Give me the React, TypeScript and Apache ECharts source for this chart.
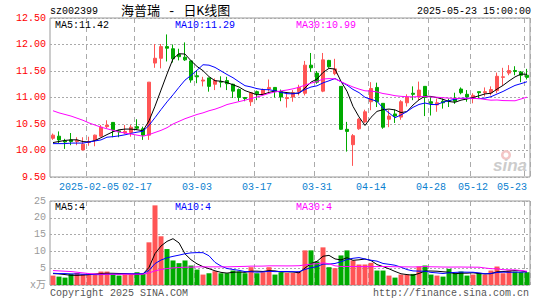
import { useEffect, useRef } from "react";
import * as echarts from "echarts";

const dates = [
  "2025-01-20","2025-01-21","2025-01-22","2025-01-23","2025-01-24","2025-01-27",
  "2025-02-05","2025-02-06","2025-02-07","2025-02-10","2025-02-11","2025-02-12","2025-02-13","2025-02-14",
  "2025-02-17","2025-02-18","2025-02-19","2025-02-20","2025-02-21","2025-02-24","2025-02-25","2025-02-26","2025-02-27","2025-02-28",
  "2025-03-03","2025-03-04","2025-03-05","2025-03-06","2025-03-07","2025-03-10","2025-03-11","2025-03-12","2025-03-13","2025-03-14",
  "2025-03-17","2025-03-18","2025-03-19","2025-03-20","2025-03-21","2025-03-24","2025-03-25","2025-03-26","2025-03-27","2025-03-28",
  "2025-03-31","2025-04-01","2025-04-02","2025-04-03","2025-04-07","2025-04-08","2025-04-09","2025-04-10","2025-04-11",
  "2025-04-14","2025-04-15","2025-04-16","2025-04-17","2025-04-18","2025-04-21","2025-04-22","2025-04-23","2025-04-24","2025-04-25",
  "2025-04-28","2025-04-29","2025-04-30","2025-05-06","2025-05-07","2025-05-08","2025-05-09",
  "2025-05-12","2025-05-13","2025-05-14","2025-05-15","2025-05-16","2025-05-19","2025-05-20","2025-05-21","2025-05-22","2025-05-23",
];

const tickDates = ["2025-02-05","2025-02-17","2025-03-03","2025-03-17","2025-03-31","2025-04-14","2025-04-28","2025-05-12","2025-05-23"];
const tickLabels = ["2025-02-05","02-17","03-03","03-17","03-31","04-14","04-28","05-12","05-23"];

const opens = [
  10.23,10.27,10.18,10.20,10.17,10.01,10.15,10.19,10.27,10.45,
  10.53,10.37,10.33,10.34,10.45,10.41,10.29,11.65,11.74,11.96,
  11.92,11.81,11.76,11.69,11.41,11.31,11.37,11.25,11.30,11.32,
  11.25,11.15,11.00,10.92,11.11,11.06,11.16,11.19,11.11,10.98,
  11.01,11.11,11.08,11.61,11.46,11.12,11.70,11.45,11.21,10.40,
  10.11,10.41,10.54,10.92,11.19,10.89,10.59,10.69,10.63,10.90,
  11.08,11.01,11.21,10.92,10.86,10.93,10.94,10.99,11.16,11.06,
  10.98,11.11,11.09,11.09,11.13,11.38,11.46,11.51,11.48,11.42,
];
const closes = [
  10.29,10.20,10.16,10.17,10.19,10.12,10.17,10.29,10.44,10.48,
  10.39,10.35,10.36,10.44,10.42,10.29,11.29,11.74,11.96,11.93,
  11.73,11.77,11.71,11.33,11.39,11.33,11.21,11.32,11.29,11.26,
  11.12,11.00,10.98,11.09,11.07,11.15,11.19,11.11,11.01,11.00,
  11.09,11.19,11.61,11.56,11.29,11.71,11.58,11.54,10.40,10.36,
  10.28,10.59,10.73,11.17,10.92,10.44,10.65,10.65,10.92,11.01,
  11.06,11.14,11.00,10.89,10.90,10.90,10.93,10.93,11.09,11.01,
  11.04,11.09,11.11,11.15,11.40,11.39,11.51,11.49,11.42,11.38,
];
const highs = [
  10.32,10.36,10.22,10.33,10.25,10.25,10.26,10.30,10.48,10.57,
  10.53,10.39,10.48,10.48,10.59,10.45,11.29,12.01,12.01,12.19,
  12.00,11.92,12.04,11.70,11.51,11.39,11.37,11.36,11.40,11.39,
  11.26,11.17,11.01,11.09,11.13,11.17,11.34,11.19,11.15,11.07,
  11.14,11.24,11.69,11.84,11.50,11.84,11.71,11.73,11.21,10.54,
  10.31,10.61,10.77,11.29,11.28,10.89,10.76,10.77,10.95,11.06,
  11.21,11.30,11.21,11.01,10.98,10.98,10.98,11.09,11.19,11.14,
  11.08,11.11,11.19,11.21,11.47,11.56,11.61,11.59,11.50,11.54,
];
const lows = [
  10.20,10.14,10.03,10.10,10.10,10.00,10.09,10.08,10.26,10.42,
  10.25,10.25,10.31,10.26,10.39,10.20,10.20,11.56,11.55,11.68,
  11.66,11.70,11.69,11.28,11.27,11.21,11.11,11.14,11.19,11.14,
  10.99,10.93,10.93,10.84,10.95,11.04,11.11,11.00,10.93,10.81,
  10.92,11.04,11.04,11.48,11.26,11.10,11.56,11.42,10.39,9.98,
  9.71,10.39,10.52,10.76,10.82,10.41,10.44,10.52,10.58,10.83,
  10.95,10.95,10.65,10.66,10.73,10.79,10.82,10.88,11.06,10.92,
  10.89,10.98,11.02,11.04,11.08,11.23,11.42,11.42,11.29,11.34,
];
const volumes = [
  2.8,2.5,2.2,3.3,3.6,3.2,3.1,3.2,4.0,4.0,
  3.1,2.8,3.2,3.2,3.8,3.3,12.7,23.7,14.5,10.7,
  7.3,6.5,7.3,5.8,4.6,3.1,3.5,4.1,3.5,3.5,
  4.3,4.0,3.5,5.3,3.5,3.8,5.3,3.1,3.8,3.6,
  3.6,4.0,10.3,10.3,7.0,11.2,5.3,5.0,8.8,10.3,
  7.3,6.1,6.1,6.6,4.3,4.3,2.8,2.2,3.1,3.1,
  3.3,5.5,5.8,3.1,2.8,2.5,4.8,3.5,4.0,2.8,
  3.1,3.6,3.1,4.3,5.5,3.5,4.3,4.0,3.8,3.8,
];

// moving-average values at the left edge (their windows start before the chart)
const ma5Head = [10.15, 10.17, 10.19, 10.20];
const ma10Head = [10.13, 10.13, 10.13, 10.14, 10.14, 10.14, 10.16, 10.18, 10.20];
const ma30Head = [
  10.75,10.71,10.68,10.65,10.61,10.57,10.52,10.48,10.44,10.41,
  10.38,10.35,10.33,10.31,10.29,10.27,10.30,10.34,10.38,10.43,
  10.50,10.55,10.60,10.64,10.68,10.71,10.75,10.78,10.82,
];
const vma5Head = [3.4, 3.3, 3.1, 2.9];
const vma10Head = [3.5, 3.4, 3.4, 3.3, 3.3, 3.2, 3.2, 3.1, 3.1];
const vma30Head = [
  4.3,4.2,4.1,4.0,3.8,3.6,3.4,3.3,3.2,3.2,
  3.2,3.2,3.2,3.2,3.2,3.2,3.6,4.2,4.6,4.9,
  5.1,5.2,5.3,5.3,5.4,5.4,5.4,5.4,5.4,
];

const stockCode = "sz002399";
const stockTitle = "海普瑞 - 日K线图";
const stampText = "2025-05-23 15:00:00";
const priceLegend = ["MA5:11.42", "MA10:11.29", "MA30:10.99"];
const volumeLegend = ["MA5:4", "MA10:4", "MA30:4"];
const maColors = ["#000000", "#0000ff", "#ff00ff"];
const copyrightText = "Copyright 2025 SINA.COM";
const urlText = "http://finance.sina.com.cn";

function movingAverage(values: number[], n: number, head: number[]) {
  return values.map((_, i) => {
    if (i < n - 1) return head[i];
    let s = 0;
    for (let k = i - n + 1; k <= i; k++) s += values[k];
    return +(s / n).toFixed(3);
  });
}

const MONO = "'Liberation Mono', 'DejaVu Sans Mono', monospace";
const RED = "#ff5555";
const GREEN = "#00aa00";

export default function App() {
  const ref = useRef<HTMLDivElement>(null);
  useEffect(() => {
    if (!ref.current) return;
    const chart = echarts.init(ref.current, null, { renderer: "svg" });
    const tickIdx = tickDates.map((d) => dates.indexOf(d));
    const isTick = (i: number) => tickIdx.indexOf(i) >= 0;
    const candle = dates.map((_, i) => [opens[i], closes[i], lows[i], highs[i]]);
    const volData = volumes.map((v, i) => ({
      value: v,
      itemStyle: { color: closes[i] >= opens[i] ? RED : GREEN },
    }));
    const ma = [movingAverage(closes, 5, ma5Head), movingAverage(closes, 10, ma10Head), movingAverage(closes, 30, ma30Head)];
    const vma = [movingAverage(volumes, 5, vma5Head), movingAverage(volumes, 10, vma10Head), movingAverage(volumes, 30, vma30Head)];
    const legendX = [55, 175, 296];

    const vSplit = {
      show: true,
      interval: (i: number) => isTick(i),
      lineStyle: { color: "#aaaaaa", type: [5, 4], width: 1 },
    };
    const hSplit = { show: true, lineStyle: { color: "#aaaaaa", type: [2, 2], width: 1 } };

    const lineSeries = (data: number[], color: string, xi: number) => ({
      type: "line",
      xAxisIndex: xi,
      yAxisIndex: xi,
      data,
      symbol: "none",
      showSymbol: false,
      lineStyle: { color, width: 1 },
      itemStyle: { color },
      silent: true,
      z: 5,
    });

    const graphic: any[] = [
      { type: "text", x: 50, y: 11, style: { text: stockCode, fill: "#000", font: `10px ${MONO}`, align: "left", verticalAlign: "middle" } },
      { type: "text", x: 121, y: 11, style: { text: stockTitle, fill: "#000", font: "13px 'Liberation Mono', 'Noto Sans CJK SC'", align: "left", verticalAlign: "middle" } },
      { type: "text", x: 531, y: 11, style: { text: stampText, fill: "#000", font: `10px ${MONO}`, align: "right", verticalAlign: "middle" } },
      { type: "text", x: 50, y: 293, style: { text: copyrightText, fill: "#555", font: `10px ${MONO}`, align: "left", verticalAlign: "middle" } },
      { type: "text", x: 529, y: 293, style: { text: urlText, fill: "#555", font: `10px ${MONO}`, align: "right", verticalAlign: "middle" } },
      { type: "ring", shape: { cx: 506, cy: 155, r: 5, r0: 2.5 }, style: { fill: "#f3c6c6" }, z: 1 },
      { type: "text", x: 527, y: 165, style: { text: "sina", fill: "#cccccc", font: "italic bold 17px 'Liberation Sans'", align: "right", verticalAlign: "middle" }, z: 1 },
    ];
    priceLegend.forEach((t, k) =>
      graphic.push({ type: "text", x: legendX[k], y: 25, z: 10, style: { text: t, fill: maColors[k], font: `10px ${MONO}`, align: "left", verticalAlign: "middle" } })
    );
    volumeLegend.forEach((t, k) =>
      graphic.push({ type: "text", x: legendX[k], y: 207, z: 10, style: { text: t, fill: maColors[k], font: `10px ${MONO}`, align: "left", verticalAlign: "middle" } })
    );

    const option: any = {
      animation: false,
      backgroundColor: "#ffffff",
      grid: [
        { left: 50, top: 18, width: 480, height: 159, show: true, borderColor: "#999999", borderWidth: 1, backgroundColor: "transparent" },
        { left: 50, top: 201, width: 480, height: 84, show: true, borderColor: "#999999", borderWidth: 1, backgroundColor: "transparent" },
      ],
      xAxis: [
        {
          type: "category",
          gridIndex: 0,
          data: dates,
          boundaryGap: true,
          axisLine: { show: false },
          axisTick: { show: false },
          axisLabel: {
            interval: (i: number) => isTick(i),
            formatter: (v: string) => {
              const k = tickDates.indexOf(v);
              return k >= 0 ? tickLabels[k] : "";
            },
            color: "#0a7fd0",
            fontFamily: MONO,
            fontSize: 10,
            margin: 5,
            alignMaxLabel: "right",
          },
          splitLine: vSplit,
        },
        {
          type: "category",
          gridIndex: 1,
          data: dates,
          boundaryGap: true,
          axisLine: { show: false },
          axisTick: { show: false },
          axisLabel: { show: false },
          splitLine: vSplit,
        },
      ],
      yAxis: [
        {
          type: "value",
          gridIndex: 0,
          min: 9.5,
          max: 12.5,
          interval: 0.5,
          axisLine: { show: false },
          axisTick: { show: false },
          axisLabel: { formatter: (v: number) => v.toFixed(2), color: "#ff0000", fontFamily: MONO, fontSize: 10, margin: 4 },
          splitLine: hSplit,
        },
        {
          type: "value",
          gridIndex: 1,
          min: 0,
          max: 25,
          interval: 5,
          axisLine: { show: false },
          axisTick: { show: false },
          axisLabel: {
            formatter: (v: number) => (v === 0 ? "x万" : String(v)),
            color: "#9a9a9a",
            fontFamily: MONO + ", 'Noto Sans CJK SC'",
            fontSize: 10,
            margin: 4,
          },
          splitLine: hSplit,
        },
      ],
      series: [
        {
          type: "candlestick",
          xAxisIndex: 0,
          yAxisIndex: 0,
          data: candle,
          barWidth: 4,
          itemStyle: { color: RED, color0: GREEN, borderColor: RED, borderColor0: GREEN, borderWidth: 1 },
          silent: true,
        },
        lineSeries(ma[0], maColors[0], 0),
        lineSeries(ma[1], maColors[1], 0),
        lineSeries(ma[2], maColors[2], 0),
        {
          type: "bar",
          xAxisIndex: 1,
          yAxisIndex: 1,
          data: volData,
          barWidth: 5,
          silent: true,
        },
        lineSeries(vma[0], maColors[0], 1),
        lineSeries(vma[1], maColors[1], 1),
        lineSeries(vma[2], maColors[2], 1),
      ],
      graphic,
    };
    chart.setOption(option);
    return () => chart.dispose();
  }, []);
  return (
    <div
      ref={ref}
      style={{ position: "fixed", left: 0, top: 0, width: 545, height: 300, background: "#fff" }}
    />
  );
}
